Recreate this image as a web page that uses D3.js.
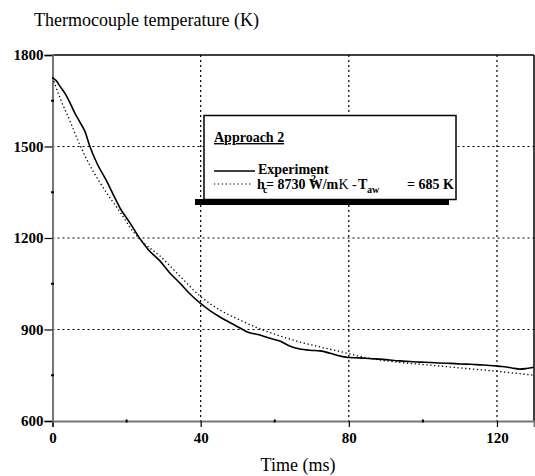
<!DOCTYPE html>
<html>
<head>
<meta charset="utf-8">
<script src="https://cdn.jsdelivr.net/npm/d3@7"></script>
<style>
  body { margin: 0; background: #fff; }
  text { font-family: "Liberation Serif", "Times New Roman", serif; }
</style>
</head>
<body>
<script>
// measured temperature (K) vs time (ms)
var expTime = [0, 1, 2, 3.5, 4.7, 6, 7.4, 8.8, 10.1, 12, 14.6, 16.5, 18.2, 21, 23.6, 26, 29, 31.5, 34.4, 37, 39.8, 42.5, 45.2, 48, 50.6, 53, 56, 58.5, 61.4, 64, 66.8, 69.5, 72.2, 75, 77.6, 80, 83, 86, 88.4, 91, 93.8, 96.5, 99.2, 102, 104.7, 107.5, 110, 113, 115.5, 118, 120.8, 122.5, 124, 126.2, 128, 130];
var expTemp = [1726, 1716, 1698, 1672, 1644, 1610, 1580, 1548, 1500, 1445, 1387, 1340, 1299, 1248, 1198, 1160, 1125, 1088, 1052, 1018, 987, 962, 941, 922, 905, 890, 882, 872, 862, 846, 836, 832, 830, 822, 813, 808, 807, 804, 803, 800, 797, 795, 793, 792, 790, 789, 787, 786, 784, 782, 779, 777, 774, 770, 772, 776];
// fitted model, hc = 8730 W/m2.K
var fitTime = [0, 2, 4.7, 7.4, 10, 12.8, 15.5, 18.2, 21.7, 25, 29, 34.4, 39.8, 45.2, 50.6, 56, 61.4, 66.8, 72.2, 77.6, 83, 88.4, 93.8, 99.2, 104.7, 110, 115.5, 120.8, 126.2, 130];
var fitTemp = [1726, 1660, 1584, 1505, 1440, 1382, 1332, 1286, 1222, 1180, 1141, 1075, 1010, 964, 931, 902, 879, 859, 843, 828, 812, 800, 792, 786, 780, 774, 768, 762, 755, 750];

var xTicks = [0, 40, 80, 120];
var xMinor = [20, 60, 100];
var yTicks = [600, 900, 1200, 1500, 1800];
var yMinor = [750, 1050, 1350, 1650];

var W = 535, H = 476;
var pLeft = 52.5, pRight = 534, pTop = 55, pBottom = 421;

var svg = d3.select("body").append("svg")
  .attr("width", W)
  .attr("height", H);

var x = d3.scaleLinear().domain([0, 130]).range([pLeft, pRight]);
var y = d3.scaleLinear().domain([600, 1800]).range([pBottom, pTop]);

// grid
svg.selectAll(".vgrid").data(xTicks.slice(1)).enter().append("line")
  .attr("x1", function(d) { return x(d); }).attr("x2", function(d) { return x(d); })
  .attr("y1", pTop).attr("y2", pBottom)
  .attr("stroke", "#000").attr("stroke-width", 1.2).attr("stroke-dasharray", "2,3");
svg.selectAll(".hgrid").data(yTicks.slice(1, -1)).enter().append("line")
  .attr("x1", pLeft).attr("x2", pRight)
  .attr("y1", function(d) { return y(d); }).attr("y2", function(d) { return y(d); })
  .attr("stroke", "#000").attr("stroke-width", 1.2).attr("stroke-dasharray", "2,3");

// frame: top and right solid black
svg.append("line").attr("x1", pLeft).attr("x2", pRight).attr("y1", pTop).attr("y2", pTop)
  .attr("stroke", "#000").attr("stroke-width", 1.5);
svg.append("line").attr("x1", pRight).attr("x2", pRight).attr("y1", pTop).attr("y2", pBottom)
  .attr("stroke", "#000").attr("stroke-width", 1.5);

// axes
var xAxis = svg.append("g").attr("transform", "translate(0," + pBottom + ")")
  .call(d3.axisBottom(x).tickValues(xTicks).tickSize(6).tickPadding(5).tickFormat(d3.format("d")));
var yAxis = svg.append("g").attr("transform", "translate(" + pLeft + ",0)")
  .call(d3.axisLeft(y).tickValues(yTicks).tickSize(8).tickPadding(1).tickFormat(d3.format("d")));

[xAxis, yAxis].forEach(function(a) {
  a.attr("font-family", null);
  a.select(".domain").attr("stroke", "#777").attr("stroke-width", 2);
  a.selectAll(".tick line").attr("stroke", "#000").attr("stroke-width", 1.2);
  a.selectAll(".tick text").attr("fill", "#000")
    .style("font-family", "'Liberation Serif', serif")
    .style("font-weight", "bold").style("font-size", "15px");
});

// minor ticks
svg.selectAll(".xminor").data(xMinor).enter().append("line")
  .attr("x1", function(d) { return x(d); }).attr("x2", function(d) { return x(d); })
  .attr("y1", pBottom - 1.5).attr("y2", pBottom + 1.5)
  .attr("stroke", "#000").attr("stroke-width", 2);
svg.selectAll(".yminor").data(yMinor).enter().append("line")
  .attr("x1", pLeft - 1.5).attr("x2", pLeft + 1.5)
  .attr("y1", function(d) { return y(d); }).attr("y2", function(d) { return y(d); })
  .attr("stroke", "#000").attr("stroke-width", 2);

// curves
var line = d3.line()
  .x(function(d) { return x(d[0]); })
  .y(function(d) { return y(d[1]); })
  .curve(d3.curveMonotoneX);

svg.append("path")
  .datum(fitTime.map(function(t, i) { return [t, fitTemp[i]]; }))
  .attr("d", line)
  .attr("fill", "none").attr("stroke", "#000")
  .attr("stroke-width", 1.3).attr("stroke-dasharray", "1.3,2.6");

svg.append("path")
  .datum(expTime.map(function(t, i) { return [t, expTemp[i]]; }))
  .attr("d", line)
  .attr("fill", "none").attr("stroke", "#000").attr("stroke-width", 1.6);

// legend
var lg = svg.append("g");
lg.append("rect").attr("x", 195).attr("y", 199).attr("width", 254).attr("height", 6).attr("fill", "#000");
lg.append("rect").attr("x", 204).attr("y", 115.5).attr("width", 252).attr("height", 84)
  .attr("fill", "#fff").attr("stroke", "#000").attr("stroke-width", 1.5);
lg.append("text").attr("x", 214).attr("y", 142)
  .style("font-weight", "bold").style("font-size", "14px")
  .style("text-decoration", "underline").text("Approach 2");
lg.append("line").attr("x1", 214).attr("x2", 255).attr("y1", 171).attr("y2", 171)
  .attr("stroke", "#000").attr("stroke-width", 1.5);
lg.append("text").attr("x", 258).attr("y", 174)
  .style("font-weight", "bold").style("font-size", "14px").text("Experiment");
lg.append("line").attr("x1", 214).attr("x2", 253).attr("y1", 184).attr("y2", 184)
  .attr("stroke", "#000").attr("stroke-width", 1.2).attr("stroke-dasharray", "1.3,2.6");

var fs = "14px";
lg.append("text").attr("x", 257).attr("y", 189).style("font-weight", "bold").style("font-size", fs).text("h");
lg.append("text").attr("x", 263).attr("y", 193).style("font-weight", "bold").style("font-size", "10px").text("c");
lg.append("text").attr("x", 266).attr("y", 189).style("font-weight", "bold").style("font-size", fs).text("= 8730 W/m");
lg.append("text").attr("x", 311).attr("y", 182).style("font-weight", "bold").style("font-size", "10px").text("2");
lg.append("text").attr("x", 335).attr("y", 189).style("font-size", fs).text(".K - ");
lg.append("text").attr("x", 358).attr("y", 189).style("font-weight", "bold").style("font-size", fs).text("T");
lg.append("text").attr("x", 367).attr("y", 193).style("font-weight", "bold").style("font-size", "10px").text("aw");
lg.append("text").attr("x", 407).attr("y", 189).style("font-weight", "bold").style("font-size", fs).text("= 685 K");

// titles
svg.append("text").attr("x", 34).attr("y", 26).style("font-size", "18px").text("Thermocouple temperature (K)");
svg.append("text").attr("x", 298).attr("y", 471).attr("text-anchor", "middle").style("font-size", "18px").text("Time (ms)");
</script>
</body>
</html>
